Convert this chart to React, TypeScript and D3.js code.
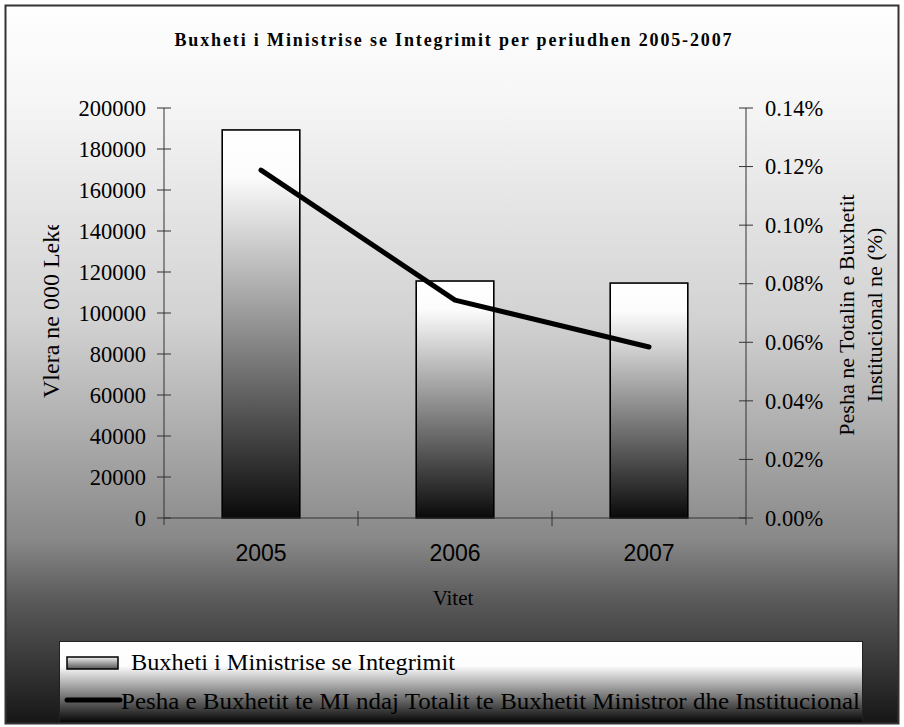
import React from "react";
import * as d3 from "d3";

// values
const years = ["2005", "2006", "2007"];
const budget = [189300, 115600, 114600]; // 000 Leke
const share = [0.1188, 0.0744, 0.0584]; // % of total budget
const leftTicks = [0, 20000, 40000, 60000, 80000, 100000, 120000, 140000, 160000, 180000, 200000];
const rightTicks = [0, 0.02, 0.04, 0.06, 0.08, 0.1, 0.12, 0.14];

const title = "Buxheti i Ministrise se Integrimit per periudhen 2005-2007";
const leftTitle = "Vlera ne 000 Leke";
const rightTitle = ["Pesha ne Totalin e Buxhetit", "Institucional ne (%)"];
const xTitle = "Vitet";
const legendBar = "Buxheti i Ministrise se Integrimit";
const legendLine = "Pesha e Buxhetit te MI ndaj Totalit te Buxhetit Ministror dhe Institucional";

const serif = "'Liberation Serif', 'Times New Roman', serif";
const sans = "'Liberation Sans', Arial, sans-serif";

export default function App() {
    const width = 904;
    const height = 727;
    const plotLeft = 164;
    const plotRight = 746;
    const plotTop = 108;
    const plotBottom = 518;
    const axisColor = "#333";

    const x = d3
        .scaleBand()
        .domain(years)
        .range([plotLeft, plotRight])
        .paddingInner(0.6)
        .paddingOuter(0.3);

    const yLeft = d3.scaleLinear().domain([0, 200000]).range([plotBottom, plotTop]);
    const yRight = d3.scaleLinear().domain([0, 0.14]).range([plotBottom, plotTop]);

    const line = d3
        .line<number>()
        .x((d, i) => (x(years[i]) as number) + x.bandwidth() / 2)
        .y((d) => yRight(d));

    // boundaries between categories, where the x ticks sit
    const step = x.step();
    const boundaries = years
        .slice(0, -1)
        .map((y) => (x(y) as number) + x.bandwidth() + (step - x.bandwidth()) / 2);

    return (
        <svg
            width={width}
            height={height}
            style={{ position: "absolute", left: 0, top: 0, display: "block" }}
        >
            <defs>
                <linearGradient id="bg" x1="0" y1="0" x2="0" y2={height} gradientUnits="userSpaceOnUse">
                    <stop offset={0} stopColor="#ffffff" />
                    <stop offset={100 / height} stopColor="#f6f6f6" />
                    <stop offset={320 / height} stopColor="#d2d2d2" />
                    <stop offset={440 / height} stopColor="#aaaaaa" />
                    <stop offset={540 / height} stopColor="#888888" />
                    <stop offset={600 / height} stopColor="#5a5a5a" />
                    <stop offset={1} stopColor="#141414" />
                </linearGradient>
                <linearGradient id="barFill" x1="0" y1="0" x2="0" y2="1">
                    <stop offset={0} stopColor="#ffffff" />
                    <stop offset={0.12} stopColor="#fcfcfc" />
                    <stop offset={1} stopColor="#0a0a0a" />
                </linearGradient>
                <linearGradient id="legendFill" x1="0" y1="0" x2="0" y2="1">
                    <stop offset={0} stopColor="#ffffff" />
                    <stop offset={0.3} stopColor="#fdfdfd" />
                    <stop offset={1} stopColor="#050505" />
                </linearGradient>
                <linearGradient id="swatchFill" x1="0" y1="0" x2="0" y2="1">
                    <stop offset={0} stopColor="#f0f0f0" />
                    <stop offset={1} stopColor="#555" />
                </linearGradient>
                <clipPath id="leftTitleClip">
                    <rect x={0} y={225} width={160} height={400} />
                </clipPath>
            </defs>

            {/* chart area */}
            <rect x={5.5} y={5.5} width={893} height={718} fill="url(#bg)" stroke="#333" strokeWidth={2} />

            <text
                x={453}
                y={46}
                textAnchor="middle"
                fontFamily={serif}
                fontWeight="bold"
                fontSize={18}
                textLength={557}
                lengthAdjust="spacing"
            >
                {title}
            </text>

            {/* bars */}
            {years.map((yr, i) => (
                <rect
                    key={yr}
                    x={x(yr)}
                    y={yLeft(budget[i])}
                    width={x.bandwidth()}
                    height={plotBottom - yLeft(budget[i])}
                    fill="url(#barFill)"
                    stroke="#000"
                    strokeWidth={1.6}
                />
            ))}

            {/* left axis */}
            <line x1={plotLeft} x2={plotLeft} y1={plotTop} y2={plotBottom + 7} stroke={axisColor} />
            {leftTicks.map((t) => (
                <g key={t} transform={`translate(0,${yLeft(t)})`}>
                    <line x1={plotLeft - 7} x2={plotLeft + 7} stroke={axisColor} />
                    <text
                        x={146}
                        dy="0.34em"
                        textAnchor="end"
                        fontFamily={serif}
                        fontSize={22.5}
                    >
                        {t}
                    </text>
                </g>
            ))}

            {/* right axis */}
            <line x1={plotRight} x2={plotRight} y1={plotTop} y2={plotBottom + 7} stroke={axisColor} />
            {rightTicks.map((t) => (
                <g key={t} transform={`translate(0,${yRight(t)})`}>
                    <line x1={plotRight - 7} x2={plotRight + 7} stroke={axisColor} />
                    <text x={765} dy="0.34em" textAnchor="start" fontFamily={serif} fontSize={22.5}>
                        {t.toFixed(2) + "%"}
                    </text>
                </g>
            ))}

            {/* x axis */}
            <line x1={plotLeft} x2={plotRight} y1={plotBottom} y2={plotBottom} stroke={axisColor} />
            {boundaries.map((b) => (
                <line key={b} x1={b} x2={b} y1={plotBottom - 7} y2={plotBottom + 8} stroke={axisColor} />
            ))}
            {years.map((yr) => (
                <text
                    key={yr}
                    x={(x(yr) as number) + x.bandwidth() / 2}
                    y={561}
                    textAnchor="middle"
                    fontFamily={sans}
                    fontSize={23}
                >
                    {yr}
                </text>
            ))}
            <text x={453} y={605} textAnchor="middle" fontFamily={serif} fontSize={21}>
                {xTitle}
            </text>

            {/* share line */}
            <path
                d={line(share) as string}
                fill="none"
                stroke="#000"
                strokeWidth={5}
                strokeLinecap="round"
                strokeLinejoin="round"
            />

            {/* axis titles */}
            <g clipPath="url(#leftTitleClip)">
                <text transform="translate(59,398) rotate(-90)" fontFamily={serif} fontSize={24}>
                    {leftTitle}
                </text>
            </g>
            {rightTitle.map((s, i) => (
                <text
                    key={s}
                    transform={`translate(${854 + i * 28},315) rotate(-90)`}
                    textAnchor="middle"
                    fontFamily={serif}
                    fontSize={22}
                >
                    {s}
                </text>
            ))}

            {/* legend */}
            <rect x={59.5} y={641.5} width={803} height={81} fill="url(#legendFill)" stroke="#222" />
            <rect x={67} y={657} width={51} height={12} fill="url(#swatchFill)" stroke="#000" strokeWidth={1.5} />
            <text x={131} y={670} fontFamily={serif} fontSize={24} textLength={324} lengthAdjust="spacingAndGlyphs">
                {legendBar}
            </text>
            <line x1={67} x2={120} y1={700} y2={700} stroke="#000" strokeWidth={5} strokeLinecap="round" />
            <text x={121} y={709} fontFamily={serif} fontSize={24} textLength={739} lengthAdjust="spacingAndGlyphs">
                {legendLine}
            </text>
        </svg>
    );
}
